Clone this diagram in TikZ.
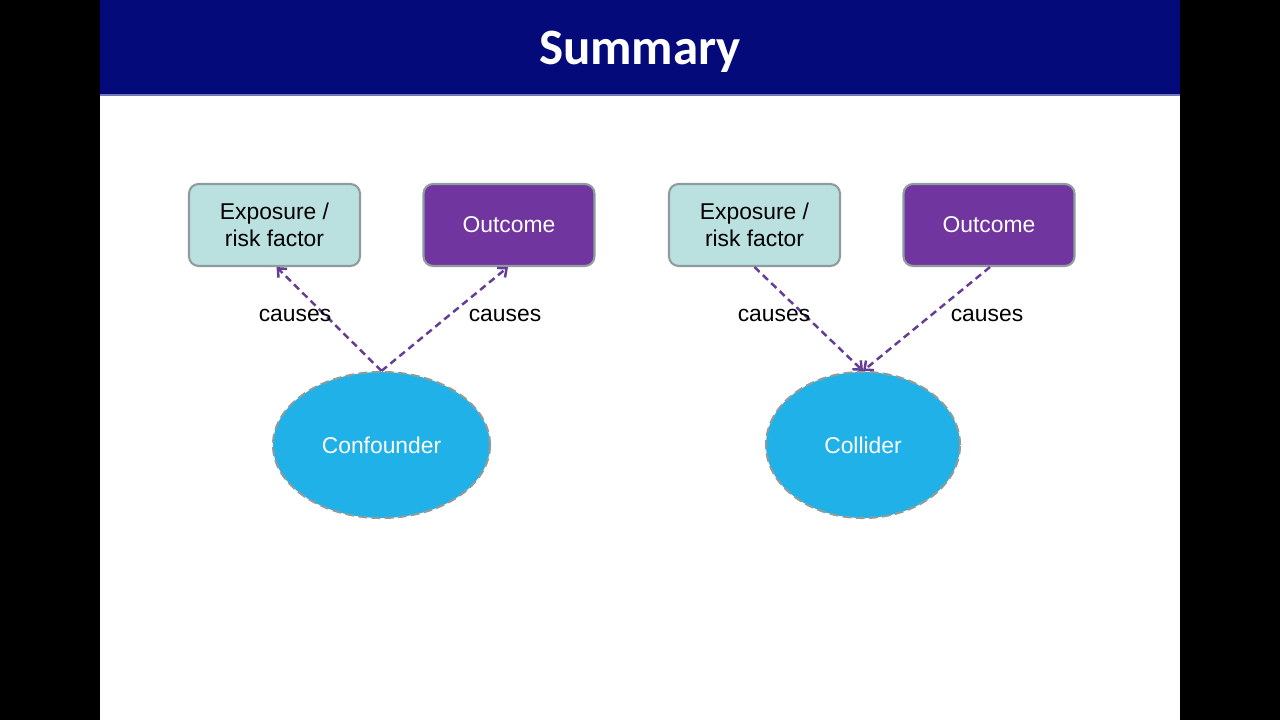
\documentclass[tikz,border=0pt]{standalone}
\usepackage{fontspec}
\setmainfont{Liberation Sans}
\newfontfamily\titlefont{Carlito}
\usepackage{xcolor}
\usepackage{tikz}
\usetikzlibrary{shapes.geometric, arrows.meta, positioning}
\definecolor{slidenavy}{HTML}{040A7A}
\definecolor{exposureteal}{HTML}{BAE1E0}
\definecolor{outcomepurple}{HTML}{7135A0}
\definecolor{causecyan}{HTML}{20B1E9}
\definecolor{edgegray}{HTML}{8E9C9C}
\definecolor{arrowpurple}{HTML}{653C96}

\begin{document}
\begin{tikzpicture}[
    font=\fontsize{13}{15.5}\selectfont,
    varbox/.style={draw=edgegray, line width=1.2pt, rounded corners=5.5pt,
      minimum width=3.42cm, minimum height=1.64cm, align=center, inner sep=2pt},
    causeblob/.style={ellipse, draw=edgegray, line width=1.2pt,
      dash pattern=on 5pt off 2.5pt, fill=causecyan, text=white,
      minimum height=2.92cm, inner sep=0pt},
    causearrow/.style={arrowpurple, line width=1.4pt,
      dash pattern=on 4pt off 2.6pt, -{Straight Barb[length=4pt,width=7pt]}},
  ]
    % Page and slide background
    \fill[black] (0,0) rectangle (25.6,14.4);
    \useasboundingbox (0,0) rectangle (25.6,14.4);
    \fill[white] (2,0) rectangle (23.6,14.4);

    % Title bar
    \fill[slidenavy] (2,12.5) rectangle (23.6,14.4);
    \fill[slidenavy!55!white] (2,12.48) rectangle (23.6,12.52);
    \node[font=\titlefont\bfseries\fontsize{29}{34}\selectfont, text=white] (title)
      at (12.8,13.37) {Summary};

    % Left: confounder
    \node[varbox, fill=exposureteal] (expL) at (5.49,9.9) {Exposure /\\risk factor};
    \node[varbox, fill=outcomepurple, text=white] (outL) at (10.18,9.9) {Outcome};
    \node[causeblob, minimum width=4.34cm] (conf) at (7.63,5.5) {Confounder};
    \draw[causearrow] (conf.north) -- ([xshift=0.04cm]expL.south);
    \draw[causearrow] (conf.north) -- ([xshift=-0.02cm]outL.south);
    \node (causeLa) at (5.9,8.09) {causes};
    \node (causeLb) at (10.1,8.09) {causes};

    % Right: collider
    \node[varbox, fill=exposureteal] (expR) at (15.09,9.9) {Exposure /\\risk factor};
    \node[varbox, fill=outcomepurple, text=white] (outR) at (19.78,9.9) {Outcome};
    \node[causeblob, minimum width=3.88cm] (coll) at (17.26,5.5) {Collider};
    \draw[causearrow] (expR.south) -- (coll.north);
    \draw[causearrow] ([xshift=0.02cm]outR.south) -- (coll.north);
    \node (causeRa) at (15.48,8.09) {causes};
    \node (causeRb) at (19.74,8.09) {causes};
\end{tikzpicture}
\end{document}
